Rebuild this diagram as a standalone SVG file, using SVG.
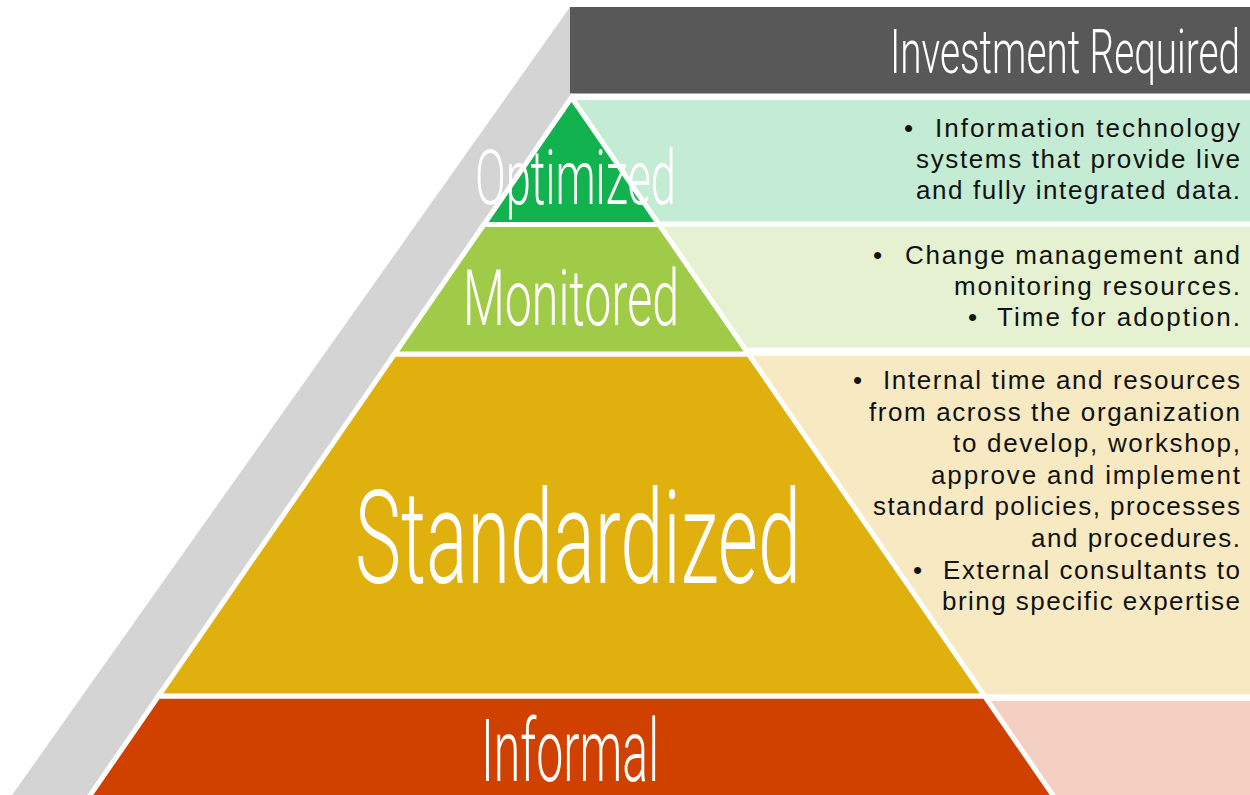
<svg xmlns="http://www.w3.org/2000/svg" width="1250" height="795" viewBox="0 0 1250 795">
  <style>
    .title { font-family: Roboto, "Liberation Sans", sans-serif; font-weight: 300; fill: #ffffff; }
    .body { font-family: "Liberation Sans", Arial, sans-serif; font-size: 26px; fill: #111111; }
    .tier { stroke: #ffffff; stroke-width: 5; stroke-linejoin: miter; }
  </style>
  <rect x="0" y="0" width="1250" height="795" fill="#ffffff"/>

  <g id="backdrop">
    <polygon points="570,7 571.5,97.5 86.8,800 8.5,800" fill="#d4d4d4"/>
  </g>

  <g id="header">
    <rect x="570" y="7" width="680" height="86.5" fill="#585858"/>
    <text class="title" x="890" y="73" font-size="61" textLength="350" lengthAdjust="spacingAndGlyphs">Investment Required</text>
  </g>

  <g id="panels">
    <rect x="577" y="100" width="673" height="121.5" fill="#c4ebd3"/>
    <rect x="577" y="226.7" width="673" height="121" fill="#e5f1d0"/>
    <rect x="577" y="355.7" width="673" height="338.6" fill="#f7eac3"/>
    <rect x="577" y="701" width="673" height="94" fill="#f3d0c1"/>
  </g>

  <g id="tier-informal">
    <polygon class="tier" points="158.5,696 984.5,696 1056.2,800 86.8,800" fill="#d04100"/>
    <text class="title" x="481" y="781" font-size="87" textLength="178" lengthAdjust="spacingAndGlyphs">Informal</text>
  </g>

  <g id="tier-standardized">
    <polygon class="tier" points="394.5,354 748.5,354 984.5,696 158.5,696" fill="#dfb00e"/>
    <text class="title" x="355" y="583" font-size="130" textLength="446" lengthAdjust="spacingAndGlyphs">Standardized</text>
  </g>

  <g id="tier-monitored">
    <polygon class="tier" points="483.9,224.5 659.1,224.5 748.5,354 394.5,354" fill="#a0cb48"/>
    <text class="title" x="463" y="325" font-size="78" textLength="216" lengthAdjust="spacingAndGlyphs">Monitored</text>
  </g>

  <g id="tier-optimized">
    <polygon class="tier" points="571.5,97.5 659.1,224.5 483.9,224.5" fill="#12b24f"/>
    <text class="title" x="475" y="204" font-size="76" textLength="201" lengthAdjust="spacingAndGlyphs">Optimized</text>
  </g>

  <g id="text-optimized">
    <text class="body" x="904" y="137">•</text>
    <text class="body" x="935" y="137" textLength="305" lengthAdjust="spacing">Information technology</text>
    <text class="body" x="916" y="168" textLength="324" lengthAdjust="spacing">systems that provide live</text>
    <text class="body" x="916" y="199" textLength="324" lengthAdjust="spacing">and fully integrated data.</text>
  </g>

  <g id="text-monitored">
    <text class="body" x="873" y="264">•</text>
    <text class="body" x="905" y="264" textLength="335" lengthAdjust="spacing">Change management and</text>
    <text class="body" x="954" y="295" textLength="286" lengthAdjust="spacing">monitoring resources.</text>
    <text class="body" x="968" y="326">•</text>
    <text class="body" x="997" y="326" textLength="243" lengthAdjust="spacing">Time for adoption.</text>
  </g>

  <g id="text-standardized">
    <text class="body" x="853" y="389">•</text>
    <text class="body" x="883" y="389" textLength="357" lengthAdjust="spacing">Internal time and resources</text>
    <text class="body" x="869" y="421" textLength="371" lengthAdjust="spacing">from across the organization</text>
    <text class="body" x="953" y="452" textLength="287" lengthAdjust="spacing">to develop, workshop,</text>
    <text class="body" x="931" y="484" textLength="309" lengthAdjust="spacing">approve and implement</text>
    <text class="body" x="873" y="515" textLength="367" lengthAdjust="spacing">standard policies, processes</text>
    <text class="body" x="1031" y="547" textLength="209" lengthAdjust="spacing">and procedures.</text>
    <text class="body" x="913" y="579">•</text>
    <text class="body" x="943" y="579" textLength="297" lengthAdjust="spacing">External consultants to</text>
    <text class="body" x="942" y="610" textLength="298" lengthAdjust="spacing">bring specific expertise</text>
  </g>
</svg>
